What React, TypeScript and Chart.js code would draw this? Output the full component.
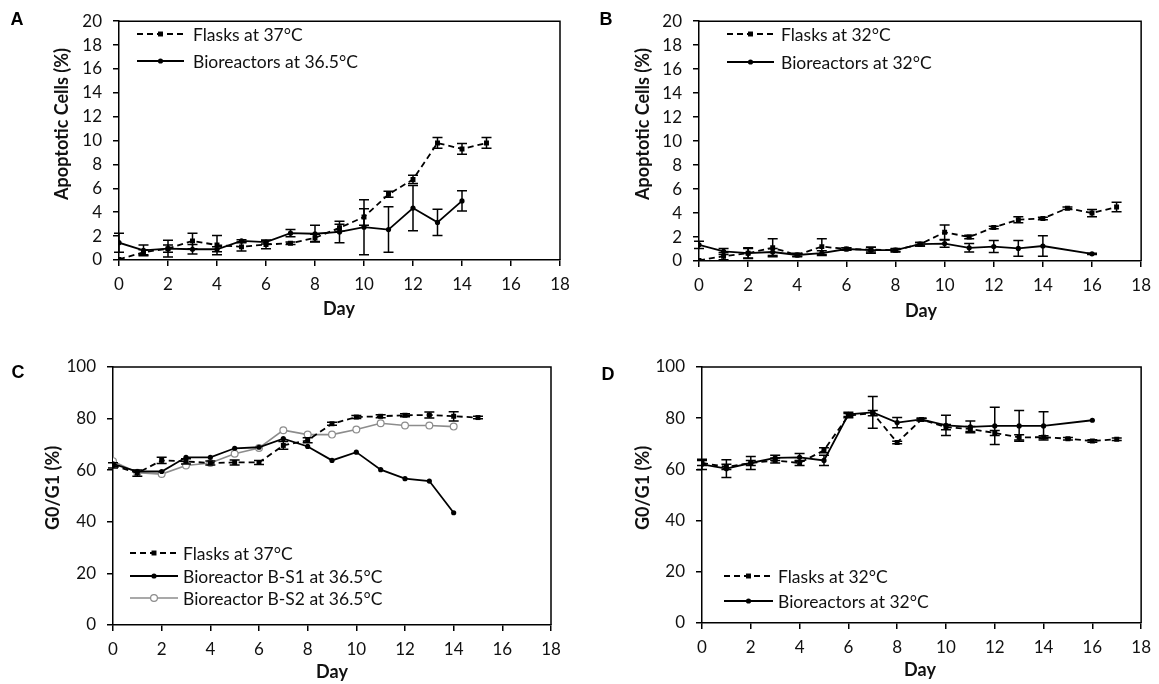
import React, { useEffect, useRef } from "react";
import { Chart, registerables } from "chart.js";

Chart.register(...registerables);

const FONT = "Lato, 'Open Sans', sans-serif";

// ---------- Panel A: Apoptotic cells, 37 °C flasks vs 36.5 °C bioreactors ----------
const aFlaskDays = [0, 1, 2, 3, 4, 5, 6, 7, 8, 9, 10, 11, 12, 13, 14, 15];
const aFlask37 = [0.05, 0.65, 0.95, 1.6, 1.25, 1.1, 1.3, 1.4, 1.85, 2.7, 3.6, 5.5, 6.75, 9.8, 9.3, 9.8];
const aFlask37Err = [0, 0.2, 0.7, 0.65, 0.8, 0.35, 0.35, 0.1, 0.3, 0.3, 0.7, 0.25, 0.35, 0.45, 0.45, 0.45];
const aBioDays = [0, 1, 2, 3, 4, 5, 6, 7, 8, 9, 10, 11, 12, 13, 14];
const aBio365 = [1.45, 0.8, 0.95, 0.9, 0.9, 1.6, 1.5, 2.25, 2.2, 2.35, 2.75, 2.55, 4.35, 3.15, 4.95];
const aBio365Err = [0.8, 0.45, 0.3, 0.4, 0.2, 0.1, 0.15, 0.3, 0.7, 0.9, 2.3, 1.9, 1.9, 1.1, 0.85];

// ---------- Panel B: Apoptotic cells, 32 °C ----------
const bFlaskDays = [0, 1, 2, 3, 4, 5, 6, 7, 8, 9, 10, 11, 12, 13, 14, 15, 16, 17];
const bFlask32 = [0.05, 0.4, 0.65, 1.1, 0.5, 1.2, 1.0, 0.95, 0.9, 1.4, 2.4, 2.0, 2.8, 3.45, 3.55, 4.4, 4.0, 4.5];
const bFlask32Err = [0, 0.3, 0.4, 0.75, 0.1, 0.65, 0.1, 0.2, 0.1, 0.15, 0.6, 0.15, 0.1, 0.25, 0.1, 0.1, 0.3, 0.4];
const bBioDays = [0, 1, 2, 3, 4, 5, 6, 7, 8, 9, 10, 11, 12, 13, 14, 16];
const bBio32 = [1.35, 0.8, 0.65, 0.75, 0.5, 0.65, 1.0, 0.9, 0.9, 1.4, 1.45, 1.1, 1.2, 1.05, 1.25, 0.6];
const bBio32Err = [0.3, 0.25, 0.45, 0.3, 0.15, 0.2, 0.1, 0.25, 0.15, 0.15, 0.3, 0.35, 0.5, 0.65, 0.85, 0.05];

// ---------- Panel C: G0/G1, 37 °C flasks vs bioreactors 36.5 °C ----------
const cFlaskDays = [0, 1, 2, 3, 4, 5, 6, 7, 8, 9, 10, 11, 12, 13, 14, 15];
const cFlask37 = [61.9, 58.9, 63.8, 63.4, 62.8, 63.0, 63.0, 69.6, 71.6, 78.0, 80.6, 80.9, 81.3, 81.4, 80.9, 80.4];
const cFlask37Err = [1.0, 1.2, 1.2, 1.0, 0.8, 1.0, 0.8, 1.5, 1.0, 0.6, 0.6, 0.6, 0.6, 1.2, 1.8, 0.5];
const cBioDays = [0, 1, 2, 3, 4, 5, 6, 7, 8, 9, 10, 11, 12, 13, 14];
const cBS1 = [62.5, 59.5, 59.5, 65.0, 65.0, 68.5, 68.9, 72.2, 69.2, 63.8, 67.0, 60.2, 56.7, 55.8, 43.5];
const cBS2 = [63.5, 59.0, 58.5, 61.8, 62.8, 66.4, 68.6, 75.5, 73.8, 73.8, 75.8, 78.2, 77.3, 77.3, 76.9];

// ---------- Panel D: G0/G1, 32 °C ----------
const dFlaskDays = [0, 1, 2, 3, 4, 5, 6, 7, 8, 9, 10, 11, 12, 13, 14, 15, 16, 17];
const dFlask32 = [62.5, 61.0, 62.5, 63.5, 62.5, 67.5, 81.0, 82.0, 70.5, 79.5, 76.5, 75.8, 74.2, 72.5, 72.6, 72.0, 71.1, 71.8];
const dFlask32Err = [1, 1, 1, 1, 1, 1, 0.8, 1, 0.5, 0.5, 1, 1, 1, 1, 0.5, 0.5, 0.5, 0.5];
const dBioDays = [0, 1, 2, 3, 4, 5, 6, 7, 8, 9, 10, 11, 12, 13, 14, 16];
const dBio32 = [62.0, 60.3, 62.5, 64.5, 64.7, 63.5, 81.5, 82.3, 78.3, 79.5, 77.2, 76.6, 77.0, 77.0, 77.0, 79.2];
const dBio32Err = [2, 3.5, 2.5, 1, 1.5, 2, 0.8, 6.2, 2, 0.5, 4, 2.3, 7.3, 6, 5.5, 0];

const xTicks = [0, 2, 4, 6, 8, 10, 12, 14, 16, 18];

type Kind = "flask" | "bio" | "bio2";

function ds(label: string, days: number[], vals: number[], errs: number[] | null, kind: Kind) {
  const data = days.map((d, i) => ({ x: d, y: vals[i] }));
  const common: any = { label, data, errors: errs, kind, fill: false, tension: 0 };
  if (kind === "flask") {
    return {
      ...common,
      borderColor: "#000",
      backgroundColor: "#000",
      borderWidth: 1.8,
      borderDash: [6, 4],
      pointStyle: "rect",
      pointRadius: 3.5,
      pointBorderWidth: 0,
      pointBackgroundColor: "#000",
    };
  }
  if (kind === "bio") {
    return {
      ...common,
      borderColor: "#000",
      backgroundColor: "#000",
      borderWidth: 1.8,
      pointStyle: "circle",
      pointRadius: 2.6,
      pointBorderWidth: 0,
      pointBackgroundColor: "#000",
    };
  }
  return {
    ...common,
    borderColor: "#8c8c8c",
    backgroundColor: "#fff",
    borderWidth: 1.6,
    pointStyle: "circle",
    pointRadius: 3.4,
    pointBorderWidth: 1.2,
    pointBorderColor: "#8c8c8c",
    pointBackgroundColor: "#fff",
  };
}

const errorBarPlugin = {
  id: "errorBars",
  afterDatasetsDraw(chart: any) {
    const { ctx } = chart;
    const x = chart.scales.x;
    const y = chart.scales.y;
    ctx.save();
    chart.data.datasets.forEach((d: any) => {
      const errs = d.errors;
      if (!errs) return;
      ctx.strokeStyle = "#000";
      ctx.lineWidth = 1.5;
      ctx.setLineDash([]);
      d.data.forEach((p: any, i: number) => {
        const e = errs[i];
        if (!e) return;
        const px = x.getPixelForValue(p.x);
        const top = y.getPixelForValue(p.y + e);
        const bot = y.getPixelForValue(Math.max(p.y - e, 0));
        ctx.beginPath();
        ctx.moveTo(px, top);
        ctx.lineTo(px, bot);
        ctx.moveTo(px - 5, top);
        ctx.lineTo(px + 5, top);
        ctx.moveTo(px - 5, bot);
        ctx.lineTo(px + 5, bot);
        ctx.stroke();
      });
    });
    ctx.restore();
  },
};

const decorPlugin = {
  id: "decor",
  afterDraw(chart: any, _args: any, opts: any) {
    const { ctx, chartArea: a } = chart;
    ctx.save();
    ctx.setLineDash([]);
    ctx.strokeStyle = "#000";
    ctx.lineWidth = 1.5;
    ctx.beginPath();
    ctx.moveTo(a.left, a.top);
    ctx.lineTo(a.right, a.top);
    ctx.lineTo(a.right, a.bottom);
    ctx.stroke();

    ctx.fillStyle = "#000";
    ctx.textAlign = "center";
    ctx.textBaseline = "middle";
    ctx.font = "bold 18px 'Liberation Sans', Arial, sans-serif";
    ctx.fillText(opts.letter, opts.letterX, opts.letterY);

    ctx.fillStyle = "#111";
    ctx.font = `bold 18px ${FONT}`;
    ctx.fillText(opts.xTitle, opts.xTitleX, opts.xTitleY);
    ctx.save();
    ctx.translate(opts.yTitleX, opts.yTitleY);
    ctx.rotate(-Math.PI / 2);
    ctx.fillText(opts.yTitle, 0, 0);
    ctx.restore();

    // legend
    const lg = opts.legend;
    ctx.font = `17.5px ${FONT}`;
    ctx.textAlign = "left";
    chart.data.datasets.forEach((d: any, i: number) => {
      const yy = lg.ys[i];
      ctx.save();
      ctx.strokeStyle = d.borderColor;
      ctx.lineWidth = d.borderWidth;
      ctx.setLineDash(d.borderDash || []);
      ctx.beginPath();
      ctx.moveTo(lg.x0, yy);
      ctx.lineTo(lg.x1, yy);
      ctx.stroke();
      ctx.setLineDash([]);
      const mx = (lg.x0 + lg.x1) / 2;
      if (d.pointStyle === "rect") {
        const s = d.pointRadius * Math.SQRT1_2;
        ctx.fillStyle = d.pointBackgroundColor;
        ctx.fillRect(mx - s, yy - s, 2 * s, 2 * s);
      } else {
        ctx.beginPath();
        ctx.arc(mx, yy, d.pointRadius, 0, Math.PI * 2);
        ctx.fillStyle = d.pointBackgroundColor;
        ctx.fill();
        if (d.pointBorderWidth) {
          ctx.strokeStyle = d.pointBorderColor;
          ctx.lineWidth = d.pointBorderWidth;
          ctx.stroke();
        }
      }
      ctx.restore();
      ctx.fillStyle = "#111";
      ctx.fillText(d.label, lg.tx, yy + 1);
    });
    ctx.restore();
  },
};

type PanelCfg = {
  left: number;
  top: number;
  w: number;
  h: number;
  area: { l: number; r: number; t: number; b: number };
  yMax: number;
  yStep: number;
  decor: any;
  datasets: any[];
};

const panels: PanelCfg[] = [
  {
    left: 0, top: 0, w: 580, h: 330,
    area: { l: 119, r: 560, t: 11, b: 260 },
    yMax: 20, yStep: 2,
    decor: {
      letter: "A", letterX: 17, letterY: 20,
      xTitle: "Day", xTitleX: 339, xTitleY: 309,
      yTitle: "Apoptotic Cells (%)", yTitleX: 62, yTitleY: 124,
      legend: { x0: 137, x1: 184, tx: 193, ys: [34, 61] },
    },
    datasets: [
      ds("Flasks at 37°C", aFlaskDays, aFlask37, aFlask37Err, "flask"),
      ds("Bioreactors at 36.5°C", aBioDays, aBio365, aBio365Err, "bio"),
    ],
  },
  {
    left: 580, top: 0, w: 579, h: 330,
    area: { l: 119, r: 564, t: 11, b: 261 },
    yMax: 20, yStep: 2,
    decor: {
      letter: "B", letterX: 26, letterY: 20,
      xTitle: "Day", xTitleX: 341, xTitleY: 311,
      yTitle: "Apoptotic Cells (%)", yTitleX: 63, yTitleY: 124,
      legend: { x0: 147, x1: 194, tx: 201, ys: [34, 62] },
    },
    datasets: [
      ds("Flasks at 32°C", bFlaskDays, bFlask32, bFlask32Err, "flask"),
      ds("Bioreactors at 32°C", bBioDays, bBio32, bBio32Err, "bio"),
    ],
  },
  {
    left: 0, top: 330, w: 580, h: 354,
    area: { l: 113, r: 551, t: 37, b: 295 },
    yMax: 100, yStep: 20,
    decor: {
      letter: "C", letterX: 18, letterY: 43,
      xTitle: "Day", xTitleX: 332, xTitleY: 342,
      yTitle: "G0/G1 (%)", yTitleX: 53, yTitleY: 158,
      legend: { x0: 130, x1: 178, tx: 183, ys: [223, 246, 268] },
    },
    datasets: [
      ds("Flasks at 37°C", cFlaskDays, cFlask37, cFlask37Err, "flask"),
      ds("Bioreactor B-S1 at 36.5°C", cBioDays, cBS1, null, "bio"),
      ds("Bioreactor B-S2 at 36.5°C", cBioDays, cBS2, null, "bio2"),
    ],
  },
  {
    left: 580, top: 330, w: 579, h: 354,
    area: { l: 122, r: 565, t: 37, b: 293 },
    yMax: 100, yStep: 20,
    decor: {
      letter: "D", letterX: 28, letterY: 45,
      xTitle: "Day", xTitleX: 340, xTitleY: 340,
      yTitle: "G0/G1 (%)", yTitleX: 63, yTitleY: 158,
      legend: { x0: 144, x1: 193, tx: 198, ys: [246, 271] },
    },
    datasets: [
      ds("Flasks at 32°C", dFlaskDays, dFlask32, dFlask32Err, "flask"),
      ds("Bioreactors at 32°C", dBioDays, dBio32, dBio32Err, "bio"),
    ],
  },
];

function Panel({ cfg }: { cfg: PanelCfg }) {
  const ref = useRef<HTMLCanvasElement | null>(null);
  useEffect(() => {
    if (!ref.current) return;
    const { area, w, h } = cfg;
    const tickFont = { family: FONT, size: 17 };
    const chart = new Chart(ref.current, {
      type: "line",
      data: { datasets: cfg.datasets },
      plugins: [errorBarPlugin, decorPlugin],
      options: {
        responsive: false,
        animation: false,
        devicePixelRatio: 1,
        layout: { padding: { left: 0, top: area.t, right: w - area.r, bottom: 0 } },
        plugins: {
          legend: { display: false },
          tooltip: { enabled: false },
          decor: cfg.decor,
        } as any,
        scales: {
          x: {
            type: "linear",
            min: 0,
            max: 18,
            afterBuildTicks: (s: any) => {
              s.ticks = xTicks.map((v) => ({ value: v }));
            },
            afterFit: (s: any) => {
              s.height = h - area.b;
            },
            ticks: { font: tickFont, color: "#111", padding: 8, maxRotation: 0 },
            grid: { drawOnChartArea: false, color: "#000", lineWidth: 1.5, tickLength: 6 },
            border: { color: "#000", width: 1.5 },
          },
          y: {
            type: "linear",
            min: 0,
            max: cfg.yMax,
            ticks: { stepSize: cfg.yStep, font: tickFont, color: "#111", padding: 11 },
            afterFit: (s: any) => {
              s.width = area.l;
            },
            grid: { drawOnChartArea: false, color: "#000", lineWidth: 1.5, tickLength: 6 },
            border: { color: "#000", width: 1.5 },
          },
        },
      } as any,
    });
    return () => chart.destroy();
  }, [cfg]);
  return (
    <canvas
      ref={ref}
      width={cfg.w}
      height={cfg.h}
      style={{ position: "absolute", left: cfg.left, top: cfg.top, width: cfg.w, height: cfg.h }}
    />
  );
}

export default function App() {
  return (
    <div
      style={{
        position: "fixed",
        left: 0,
        top: 0,
        width: 1159,
        height: 684,
        background: "#fff",
        overflow: "hidden",
      }}
    >
      {panels.map((p, i) => (
        <Panel key={i} cfg={p} />
      ))}
    </div>
  );
}
